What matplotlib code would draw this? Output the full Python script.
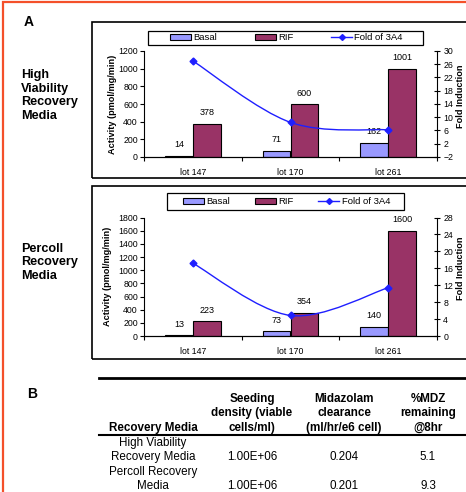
import numpy as np
import matplotlib
matplotlib.use('Agg')
import matplotlib.pyplot as plt
from matplotlib.patches import Rectangle, Patch, PathPatch
from matplotlib.lines import Line2D
from matplotlib.path import Path

plt.rcParams['font.family'] = ['Liberation Sans', 'DejaVu Sans']

# data
lots = ['lot 147', 'lot 170', 'lot 261']
hv_basal = [14, 71, 162]
hv_rif = [378, 600, 1001]
hv_fold = [27.0, 8.45, 6.2]
pc_basal = [13, 73, 140]
pc_rif = [223, 354, 1600]
pc_fold = [17.2, 4.85, 11.4]

table_header = ['Recovery Media', 'Seeding\ndensity (viable\ncells/ml)',
                'Midazolam\nclearance\n(ml/hr/e6 cell)', '%MDZ\nremaining\n@8hr']
table_media = ['High Viability\nRecovery Media', 'Percoll Recovery\nMedia']
table_density = ['1.00E+06', '1.00E+06']
table_clearance = ['0.204', '0.201']
table_mdz = ['5.1', '9.3']

BASAL = '#9999ff'
RIF = '#993366'
LINE = '#1f1fff'

W, H = 466, 492
fig = plt.figure(figsize=(W / 100, H / 100), dpi=100)


# pixel -> figure fraction helpers
def fx(x):
    return x / W


def fy(y):
    return 1 - y / H


def px_rect(x0, y0, x1, y1, **kw):
    r = Rectangle((fx(x0), fy(y1)), fx(x1) - fx(x0), fy(y0) - fy(y1),
                  transform=fig.transFigure, fill=False, **kw)
    fig.add_artist(r)


def px_line(x0, x1, y, lw):
    fig.add_artist(Line2D([fx(x0), fx(x1)], [fy(y), fy(y)], color='black',
                          lw=lw, transform=fig.transFigure))


# Excel style smoothed line (catmull-rom -> bezier)
def smooth_path(x, y):
    n = len(x)
    verts = [(x[0], y[0])]
    codes = [Path.MOVETO]
    for i in range(n - 1):
        a = max(i - 1, 0)
        b = min(i + 2, n - 1)
        c1 = (x[i] + (x[i + 1] - x[a]) / 6, y[i] + (y[i + 1] - y[a]) / 6)
        c2 = (x[i + 1] - (x[b] - x[i]) / 6, y[i + 1] - (y[b] - y[i]) / 6)
        verts += [c1, c2, (x[i + 1], y[i + 1])]
        codes += [Path.CURVE4] * 3
    return Path(verts, codes)


def draw_chart(top, bottom, basal, rif, fold, ymax, ystep, ylim2, ystep2,
               ylab_x, frame, legbox, legentries):
    ax = fig.add_axes([fx(144), fy(bottom), fx(437) - fx(144), fy(top) - fy(bottom)])
    x = np.arange(len(lots))
    bw = 0.285
    ax.bar(x - bw / 2, basal, bw, color=BASAL, edgecolor='black', lw=0.8, zorder=2)
    ax.bar(x + bw / 2, rif, bw, color=RIF, edgecolor='black', lw=0.8, zorder=2)
    for i in range(len(lots)):
        ax.annotate(str(basal[i]), (x[i] - bw / 2, basal[i]), xytext=(0, 7.9),
                    textcoords='offset points', ha='center', va='center', fontsize=6.5)
        ax.annotate(str(rif[i]), (x[i] + bw / 2, rif[i]), xytext=(0, 7.9),
                    textcoords='offset points', ha='center', va='center', fontsize=6.5)
    ax.set_xlim(-0.5, len(lots) - 0.5)
    ax.set_ylim(0, ymax)
    ax.set_yticks(np.arange(0, ymax + 1, ystep))
    ax.set_xticks(x)
    ax.set_xticklabels(lots)
    ax.set_xticks([-0.5, 0.5, 1.5, 2.5], minor=True)
    ax.tick_params(axis='x', which='major', length=0, pad=8, labelsize=6.3)
    ax.tick_params(axis='x', which='minor', length=3, width=0.8)
    ax.tick_params(axis='y', length=3, width=0.8, pad=1.5, labelsize=6.3)
    ax.spines['top'].set_visible(False)
    ax.spines['right'].set_visible(False)
    ax.set_ylabel('Activity (pmol/mg/min)', fontsize=6.6, fontweight='bold')
    ax.yaxis.set_label_coords(ylab_x, 0.5)

    ax2 = ax.twinx()
    ax2.set_ylim(*ylim2)
    ax2.set_yticks(np.arange(ylim2[0], ylim2[1] + 1, ystep2))
    ax2.tick_params(axis='y', direction='inout', length=5, width=0.8, pad=2, labelsize=6.3)
    ax2.spines['top'].set_visible(False)
    ax2.spines['left'].set_visible(False)
    ax2.add_patch(PathPatch(smooth_path(x.astype(float), fold), fill=False,
                            edgecolor=LINE, lw=1.0, zorder=3))
    ax2.plot(x, fold, 'D', color=LINE, ms=3.5, zorder=4)
    ax2.set_ylabel('Fold Induction', fontsize=6.6, fontweight='bold', rotation=90)
    ax2.yaxis.set_label_coords(1.066, 0.57)

    px_rect(*frame, lw=1.2, edgecolor='black')
    px_rect(*legbox, lw=0.9, edgecolor='black')
    handles = [Patch(facecolor=BASAL, edgecolor='black', lw=0.8),
               Patch(facecolor=RIF, edgecolor='black', lw=0.8),
               Line2D([], [], color=LINE, marker='D', ms=3, lw=1.0)]
    l0, l1 = legentries
    yc = (legbox[1] + legbox[3]) / 2
    fig.legend(handles, ['Basal', 'RIF', 'Fold of 3A4'], ncol=3, loc='center',
               bbox_to_anchor=(fx(l0), fy(yc + 5), fx(l1) - fx(l0), fy(yc - 5) - fy(yc + 5)),
               mode='expand', frameon=False, fontsize=6.8, borderpad=0, borderaxespad=0,
               handlelength=2.2, handleheight=0.65, handletextpad=0.25)
    return ax


draw_chart(51, 157, hv_basal, hv_rif, hv_fold, 1200, 200, (-2, 30), 4,
           -0.092, (92, 22, 480, 178), (148, 31, 423, 45), (170, 403))
draw_chart(217.5, 336, pc_basal, pc_rif, pc_fold, 1800, 200, (0, 28), 4,
           -0.109, (92, 186, 480, 359), (167, 193, 404, 210), (183, 390))

# panel letters and side labels
fig.text(fx(24), fy(22), 'A', fontsize=10, fontweight='bold', va='center', ha='left')
fig.text(fx(27), fy(394), 'B', fontsize=10, fontweight='bold', va='center', ha='left')
fig.text(fx(21), fy(95.5), 'High\nViability\nRecovery\nMedia', fontsize=9.1,
         fontweight='bold', va='center', ha='left', linespacing=1.22)
fig.text(fx(21), fy(262.5), 'Percoll\nRecovery\nMedia', fontsize=9.1,
         fontweight='bold', va='center', ha='left', linespacing=1.22)

# table B
col_x = [153, 252, 344, 428]
px_line(99, 470, 377.5, 2.0)
px_line(99, 470, 435, 1.5)
fig.text(fx(col_x[0]), fy(428), table_header[0], fontsize=8.4, fontweight='bold',
         ha='center', va='center')
for cx, txt in zip(col_x[1:], table_header[1:]):
    fig.text(fx(cx), fy(413.3), txt, fontsize=8.4, fontweight='bold',
             ha='center', va='center', linespacing=1.28)
row_y = [(443, 456.7), (472, 486)]
for i, (y0, y1) in enumerate(row_y):
    fig.text(fx(col_x[0]), fy((y0 + y1) / 2), table_media[i], fontsize=8.4,
             ha='center', va='center', linespacing=1.16)
    for cx, col in zip(col_x[1:], [table_density, table_clearance, table_mdz]):
        fig.text(fx(cx), fy(y1), col[i], fontsize=8.4, ha='center', va='center')

# red outer border (cropped on the right and bottom)
px_rect(3, 1.5, 490, 520, lw=1.6, edgecolor='#f4502a')

fig.savefig('out.png', dpi=100)
